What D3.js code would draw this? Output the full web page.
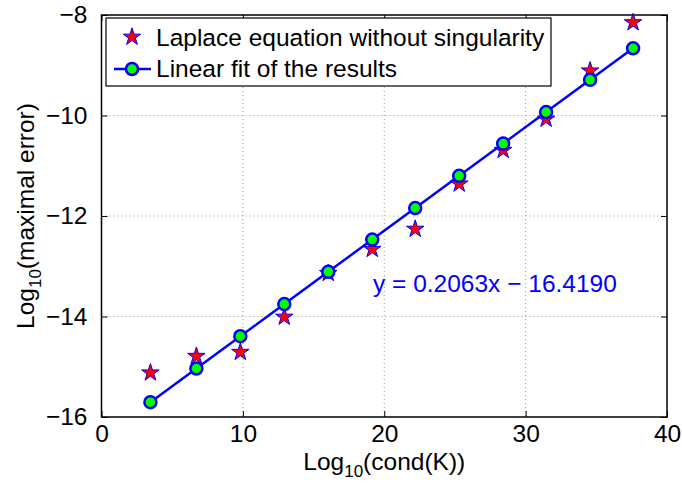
<!DOCTYPE html>
<html><head><meta charset="utf-8">
<script src="https://cdn.jsdelivr.net/npm/d3@7"></script>
<style>body{margin:0;background:#fff}svg{display:block;font-family:"Liberation Sans",Arial,sans-serif}</style>
</head><body><svg id="c" width="682" height="484"></svg>
<script>
const condX = [3.46, 6.71, 9.82, 12.93, 16.04, 19.15, 22.19, 25.3, 28.41, 31.45, 34.56, 37.6];
const errY = [-15.12, -14.79, -14.71, -14.01, -13.14, -12.66, -12.26, -11.36, -10.69, -10.07, -9.11, -8.15];
const fitY = [-15.705, -15.035, -14.393, -13.752, -13.110, -12.468, -11.841, -11.200, -10.558, -9.931, -9.289, -8.662];
const xTicks = [0, 10, 20, 30, 40];
const yTicks = [-16, -14, -12, -10, -8];
const legendLabels = ["Laplace equation without singularity", "Linear fit of the results"];
const equationText = "y = 0.2063x \u2212 16.4190";

const svg = d3.select("#c");
const L = 101.5, R = 667, T = 15, B = 417;
const x = d3.scaleLinear().domain([0, 40]).range([L, R]);
const y = d3.scaleLinear().domain([-16, -8]).range([B, T]);
const fs = 24.5;

// grid
const g = svg.append("g");
g.selectAll(".gx").data(xTicks.slice(1, -1)).join("line")
  .attr("x1", d => x(d)).attr("x2", d => x(d)).attr("y1", T).attr("y2", B)
  .attr("stroke", "#9a9a9a").attr("stroke-width", 1).attr("stroke-dasharray", "1,3");
g.selectAll(".gy").data(yTicks.slice(1, -1)).join("line")
  .attr("y1", d => y(d)).attr("y2", d => y(d)).attr("x1", L).attr("x2", R)
  .attr("stroke", "#9a9a9a").attr("stroke-width", 1).attr("stroke-dasharray", "1,3");

// axes with inner ticks
const ax = svg.append("g");
const xa = d3.axisBottom(x).tickValues(xTicks).tickSize(-6).tickPadding(8).tickFormat(d3.format("d"));
const ya = d3.axisLeft(y).tickValues(yTicks).tickSize(-6).tickPadding(14).tickFormat(d => (d < 0 ? "\u2212" : "") + Math.abs(d));
const gx = ax.append("g").attr("transform", `translate(0,${B})`).call(xa);
const gy = ax.append("g").attr("transform", `translate(${L},0)`).call(ya);
const xt = ax.append("g").attr("transform", `translate(0,${T})`).call(d3.axisTop(x).tickValues(xTicks).tickSize(-6).tickFormat(""));
const yr = ax.append("g").attr("transform", `translate(${R},0)`).call(d3.axisRight(y).tickValues(yTicks).tickSize(-6).tickFormat(""));
[gx, gy, xt, yr].forEach(a => {
  a.select(".domain").remove();
  a.selectAll("line").attr("stroke", "#000").attr("stroke-width", 1);
  a.selectAll("text").attr("fill", "#000").style("font-size", fs + "px").style("font-family", "'Liberation Sans',Arial,sans-serif");
});
gx.selectAll("text").attr("dy", "0.71em");
svg.append("rect").attr("x", L).attr("y", T).attr("width", R - L).attr("height", B - T)
  .attr("fill", "none").attr("stroke", "#000").attr("stroke-width", 1.5);

// fit line + circles
const line = d3.line().x((d, i) => x(condX[i])).y(d => y(d));
svg.append("path").datum(fitY).attr("d", line).attr("fill", "none").attr("stroke", "#0000ff").attr("stroke-width", 2.5);

const starPath = d3.symbol().type(d3.symbolStar).size(95)();
svg.selectAll(".st").data(errY).join("path")
  .attr("d", starPath).attr("transform", (d, i) => `translate(${x(condX[i])},${y(d)})`)
  .attr("fill", "#ff0000").attr("stroke", "#0000ff").attr("stroke-width", 1);
svg.selectAll(".ci").data(fitY).join("circle")
  .attr("cx", (d, i) => x(condX[i])).attr("cy", d => y(d)).attr("r", 6)
  .attr("fill", "#00ff00").attr("stroke", "#0000ff").attr("stroke-width", 2.5);

// equation
svg.append("text").attr("x", 373).attr("y", 292).attr("fill", "#0000ff")
  .style("font-size", "24.5px").text(equationText);

// legend
const lg = svg.append("g");
lg.append("rect").attr("x", 106).attr("y", 18).attr("width", 445).attr("height", 68)
  .attr("fill", "#fff").attr("stroke", "#000").attr("stroke-width", 1.2);
lg.append("path").attr("d", starPath).attr("transform", "translate(132,37)")
  .attr("fill", "#ff0000").attr("stroke", "#0000ff").attr("stroke-width", 1);
lg.append("line").attr("x1", 114).attr("x2", 151).attr("y1", 69).attr("y2", 69)
  .attr("stroke", "#0000ff").attr("stroke-width", 2.5);
lg.append("circle").attr("cx", 132).attr("cy", 69).attr("r", 6)
  .attr("fill", "#00ff00").attr("stroke", "#0000ff").attr("stroke-width", 2.5);
lg.selectAll(".lt").data(legendLabels).join("text")
  .attr("x", 156).attr("y", (d, i) => 46 + i * 31).style("font-size", fs + "px").attr("fill", "#000").text(d => d);

// axis labels
const xl = svg.append("text").attr("x", (L + R) / 2).attr("y", 470).attr("text-anchor", "middle").style("font-size", fs + "px");
xl.append("tspan").text("Log");
xl.append("tspan").attr("dy", 7).style("font-size", "17px").text("10");
xl.append("tspan").attr("dy", -7).text("(cond(K))");
const yl = svg.append("text").attr("transform", `translate(34,${(T + B) / 2}) rotate(-90)`).attr("text-anchor", "middle").style("font-size", fs + "px");
yl.append("tspan").text("Log");
yl.append("tspan").attr("dy", 7).style("font-size", "17px").text("10");
yl.append("tspan").attr("dy", -7).text("(maximal error)");
</script></body></html>
